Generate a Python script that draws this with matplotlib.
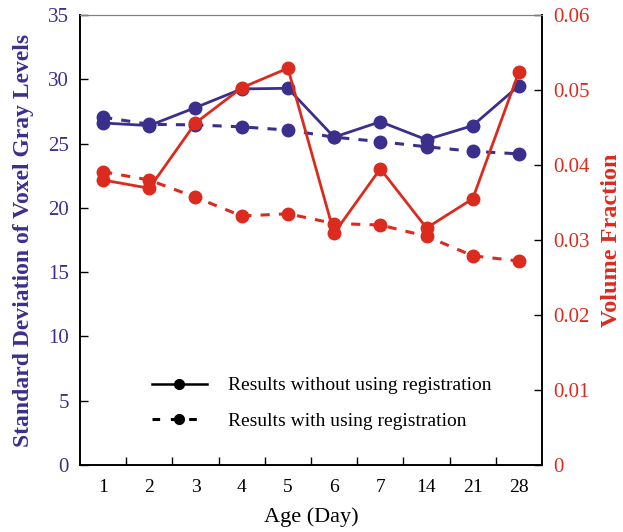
"""
Gray-level standard deviation and volume fraction vs. age
"""

import matplotlib.pyplot as plt
from matplotlib.lines import Line2D
from matplotlib.ticker import FuncFormatter, MultipleLocator

plt.rcParams['font.family'] = ['Liberation Serif', 'DejaVu Serif']

# Data
days = ['1', '2', '3', '4', '5', '6', '7', '14', '21', '28']
std_without = [26.6, 26.4, 27.8, 29.25, 29.3, 25.5, 26.7, 25.3, 26.4, 29.5]
std_with = [27.05, 26.5, 26.45, 26.3, 26.05, 25.5, 25.15, 24.75, 24.4, 24.2]
vf_without = [0.0380, 0.0369, 0.0456, 0.0503, 0.0529, 0.0309, 0.0395, 0.0316, 0.0355, 0.0524]
vf_with = [0.0391, 0.0380, 0.0357, 0.0332, 0.0335, 0.0322, 0.0320, 0.0305, 0.0279, 0.0272]

blue = '#3b2f8e'
red = '#db2b1e'

x = list(range(1, len(days) + 1))

fig = plt.figure(figsize=(6.23, 5.32), dpi=100)
ax = fig.add_axes([0.1284, 0.1259, 0.7416, 0.8459])

# Left axis: standard deviation
ax.plot(x, std_without, '-o', color=blue, lw=2, ms=9)
ax.plot(x, std_with, 'o', color=blue, ls=(0, (3, 3)), lw=2.2, ms=9)
ax.set_ylim(0, 35)
ax.set_xlim(0.5, 10.5)
ax.yaxis.set_major_locator(MultipleLocator(5))
ax.set_ylabel('Standard Deviation of Voxel Gray Levels', color=blue,
              fontsize=17, fontweight='bold', labelpad=10)
ax.tick_params(axis='y', direction='in', colors='black', labelcolor=blue,
               labelsize=15, length=6, width=1, pad=8)

ax.set_xticks(x)
ax.set_xticklabels(days)
ax.set_xticks([i + 0.5 for i in x[:-1]], minor=True)
ax.tick_params(axis='x', which='major', length=0, labelsize=14, pad=10)
ax.tick_params(axis='x', which='minor', direction='in', length=6, width=1)
ax.set_xlabel('Age (Day)', fontsize=16, labelpad=8)

# Right axis: volume fraction
ax2 = ax.twinx()
ax2.plot(x, vf_without, '-o', color=red, lw=2, ms=9)
ax2.plot(x, vf_with, 'o', color=red, ls=(0, (3, 3)), lw=2.2, ms=9)
ax2.set_ylim(0, 0.06)
ax2.yaxis.set_major_locator(MultipleLocator(0.01))
ax2.yaxis.set_major_formatter(FuncFormatter(lambda v, p: '0' if abs(v) < 1e-9 else f'{v:.2f}'))
ax2.set_ylabel('Volume Fraction', color=red, fontsize=17.5, fontweight='bold', labelpad=8)
ax2.tick_params(axis='y', direction='in', colors='black', labelcolor=red,
                labelsize=15, length=6, width=1, pad=8)

for a in (ax, ax2):
    a.spines['top'].set_color('#808080')
    for s in ('left', 'right', 'bottom'):
        a.spines[s].set_linewidth(1.2)

handles = [
    Line2D([], [], color='black', lw=1.8, marker='o', ms=7),
    Line2D([], [], color='black', lw=2.2, ls=(0, (2.5, 3.5)), marker='o', ms=7),
]
ax.legend(handles, ['Results without using registration', 'Results with using registration'],
          frameon=False, loc='lower left', bbox_to_anchor=(0.117, 0.04),
          fontsize=14, handlelength=2.83, handletextpad=1.1, labelspacing=0.9)

plt.savefig('out.png', dpi=100)
